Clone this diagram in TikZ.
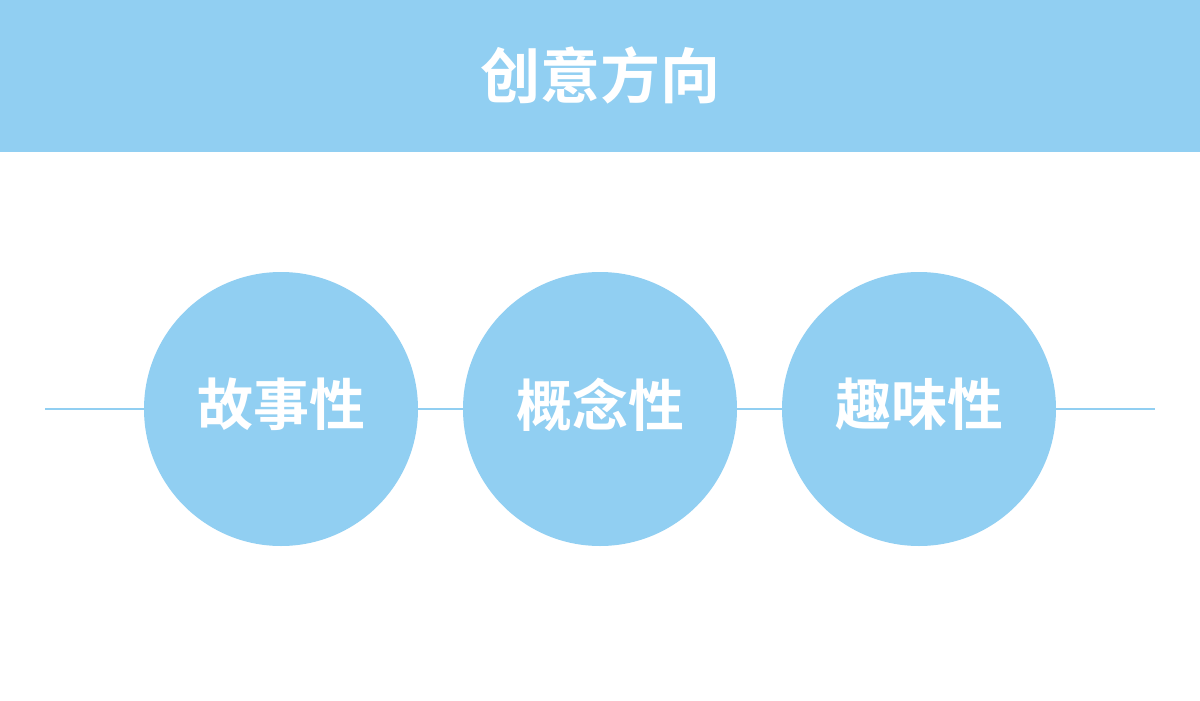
\documentclass[tikz,border=0pt]{standalone}
\usepackage{fontspec}
\newfontfamily\cjk{Noto Sans CJK SC}[BoldFont={Noto Sans CJK SC Bold}]
\definecolor{skyb}{HTML}{91CFF2}
\tikzset{
  bubble/.style={circle, fill=skyb, minimum size=274pt, inner sep=0pt},
  bubbletext/.style={text=white, inner sep=0pt, font=\cjk\bfseries\fontsize{56pt}{60pt}\selectfont},
  titletext/.style={text=white, font=\cjk\bfseries\fontsize{60pt}{64pt}\selectfont, inner sep=0pt},
}
\begin{document}
\begin{tikzpicture}[x=1pt,y=-1pt]
\useasboundingbox (0,0) rectangle (1200,701);
\fill[white] (0,0) rectangle (1200,701);
\fill[skyb] (0,0) rectangle (1200,152);
\node[titletext] (title) at (600,75.5) {创意方向};
\coordinate (L) at (45,409);
\coordinate (R) at (1155,409);
\draw[skyb, line width=1.2pt] (L) -- (R);
\node[bubble] (a) at (281,409) {};
\node[bubble] (b) at (600,409) {};
\node[bubble] (c) at (919,409) {};
\node[bubbletext] (ta) at (281,404.5) {故事性};
\node[bubbletext] (tb) at (600,404.5) {概念性};
\node[bubbletext] (tc) at (919,404.5) {趣味性};
\end{tikzpicture}
\end{document}
